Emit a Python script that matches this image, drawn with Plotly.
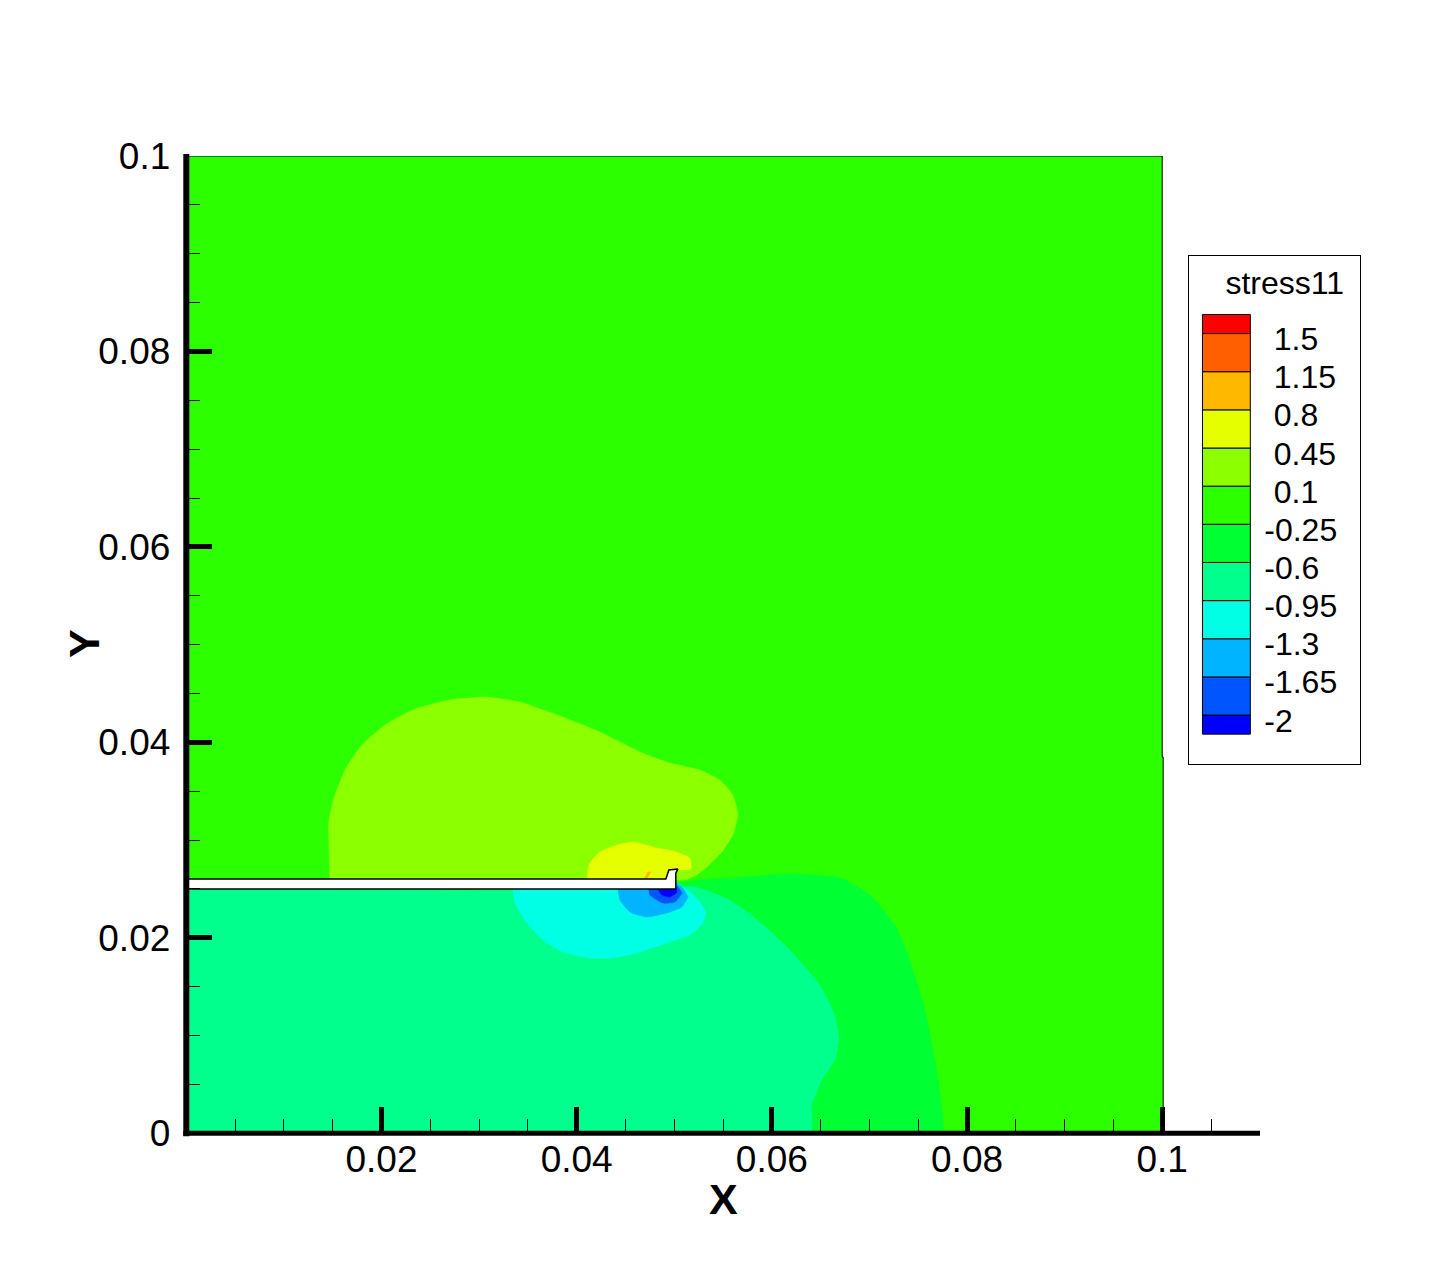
import plotly.graph_objects as go

# Contour zones, boundaries (data units)
plate_x = [0, 0.1, 0.1, 0.1001, 0.1001, 0]
plate_y = [0.1, 0.1, 0.0385, 0.0385, 0, 0]

z045_x = [0.01472,0.01462,0.01523,0.01636,0.01800,0.02035,0.02343,0.02701,0.03060,0.03418,0.03828,0.04238,0.04648,0.04955,0.05262,0.05467,0.05600,0.05651,0.05600,0.05488,0.05344,0.05231,0.05108,0.05016]
z045_y = [0.02602,0.03206,0.03462,0.03738,0.03973,0.04178,0.04341,0.04434,0.04464,0.04413,0.04270,0.04106,0.03902,0.03789,0.03717,0.03615,0.03462,0.03257,0.03052,0.02878,0.02735,0.02643,0.02592,0.02592]

z08_x = [0.04105,0.04135,0.04238,0.04412,0.04576,0.04822,0.04986,0.05160,0.05170,0.05037,0.04945,0.04914]
z08_y = [0.02602,0.02766,0.02878,0.02950,0.02981,0.02919,0.02889,0.02817,0.02704,0.02694,0.02694,0.02602]

z115_x = [0.04688,0.04729,0.04760,0.04719]
z115_y = [0.02602,0.02674,0.02674,0.02602]

zm025_x = [0.05027,0.05262,0.05600,0.06184,0.06696,0.07004,0.07260,0.07413,0.07567,0.07669,0.07731,0.07741,0.06389]
zm025_y = [0.02561,0.02592,0.02612,0.02653,0.02612,0.02438,0.02131,0.01773,0.01262,0.00750,0.00341,0,0]

zm06_x = [0,0.05016,0.05160,0.05314,0.05570,0.05877,0.06184,0.06491,0.06645,0.06686,0.06645,0.06512,0.06410,0.06389,0]
zm06_y = [0.02500,0.02500,0.02530,0.02490,0.02387,0.02162,0.01876,0.01517,0.01211,0.00955,0.00750,0.00545,0.00290,0,0]

zm095_x = [0.03347,0.03367,0.03490,0.03654,0.03859,0.04135,0.04371,0.04617,0.04925,0.05160,0.05293,0.05324,0.05262,0.05160,0.05027,0.05016]
zm095_y = [0.02500,0.02356,0.02152,0.01978,0.01855,0.01794,0.01794,0.01845,0.01947,0.02029,0.02152,0.02254,0.02367,0.02469,0.02561,0.02500]

zm13_x = [0.04422,0.04443,0.04545,0.04719,0.04925,0.05078,0.05139,0.05078,0.05016,0.05016]
zm13_y = [0.02500,0.02387,0.02264,0.02213,0.02254,0.02315,0.02418,0.02520,0.02561,0.02500]

zm165_x = [0.04740,0.04750,0.04883,0.05006,0.05078,0.05027,0.05016]
zm165_y = [0.02500,0.02438,0.02356,0.02367,0.02459,0.02530,0.02500]

zm2_x = [0.04832,0.04873,0.04955,0.05027,0.05016]
zm2_y = [0.02500,0.02438,0.02418,0.02469,0.02510]

crack_x = [0,0.04914,0.04945,0.05037,0.05016,0.05016,0]
crack_y = [0.02602,0.02602,0.02694,0.02704,0.02663,0.02500,0.02500]

# Legend
legend_edges = [-2.175,-2,-1.65,-1.3,-0.95,-0.6,-0.25,0.1,0.45,0.8,1.15,1.5,1.675]
legend_colors = ["#0000ff","#0055ff","#00b4ff","#00ffe5","#00ff8c","#00ff33",
                 "#2bff00","#8cff00","#e5ff00","#ffb800","#ff5f00","#ff0000"]
legend_neg = ["-2","-1.65","-1.3","-0.95","-0.6","-0.25"]
legend_pos = ["0.1","0.45","0.8","1.15","1.5"]
neg_levels = [-2,-1.65,-1.3,-0.95,-0.6,-0.25]
pos_levels = [0.1,0.45,0.8,1.15,1.5]

x_ticks = [0.02,0.04,0.06,0.08,0.1]
x_labels = ["0.02","0.04","0.06","0.08","0.1"]
y_ticks = [0,0.02,0.04,0.06,0.08,0.1]
y_labels = ["0","0.02","0.04","0.06","0.08","0.1"]

W, H = 1433, 1274
FONT = "Liberation Sans"
fig = go.Figure()

def zone(x, y, color, line=None, lw=0, smooth=True):
    ln = dict(color=line or color, width=lw if line else 0.5)
    if smooth:
        ln.update(shape="spline", smoothing=0.5)
    fig.add_trace(go.Scatter(x=x, y=y, mode="lines", fill="toself", fillcolor=color,
                             line=ln, hoverinfo="skip", showlegend=False))

zone(plate_x, plate_y, "#2bff00", "#000000", 1, smooth=False)
zone(zm025_x, zm025_y, "#00ff33")
zone(zm06_x, zm06_y, "#00ff8c")
zone(zm095_x, zm095_y, "#00ffe5")
zone(zm13_x, zm13_y, "#00b4ff")
zone(zm165_x, zm165_y, "#0055ff")
zone(zm2_x, zm2_y, "#0000ff")
zone(z045_x, z045_y, "#8cff00")
zone(z08_x, z08_y, "#e5ff00")
zone(z115_x, z115_y, "#ffb800", smooth=False)
zone(crack_x, crack_y, "#ffffff", "#000000", 1.5, smooth=False)

# legend bar
fig.add_trace(go.Bar(x=[38]*len(legend_colors),
                     y=[legend_edges[i+1]-legend_edges[i] for i in range(len(legend_colors))],
                     base=legend_edges[:-1], width=48,
                     marker=dict(color=legend_colors, line=dict(color="#000000", width=1)),
                     xaxis="x2", yaxis="y2", showlegend=False, hoverinfo="skip"))
LABEL_SHIFT = -0.078
lab_font = dict(family=FONT, size=32, color="#000000")
fig.add_trace(go.Scatter(x=[76]*len(neg_levels), y=[v+LABEL_SHIFT for v in neg_levels], text=legend_neg,
                         mode="text", textposition="middle right", textfont=lab_font,
                         xaxis="x2", yaxis="y2", showlegend=False, hoverinfo="skip"))
fig.add_trace(go.Scatter(x=[85.5]*len(pos_levels), y=[v+LABEL_SHIFT for v in pos_levels], text=legend_pos,
                         mode="text", textposition="middle right", textfont=lab_font,
                         xaxis="x2", yaxis="y2", showlegend=False, hoverinfo="skip"))
fig.add_trace(go.Scatter(x=[37], y=[1.94], text=["stress11"],
                         mode="text", textposition="middle right", textfont=lab_font,
                         xaxis="x2", yaxis="y2", showlegend=False, hoverinfo="skip"))

axis_common = dict(showgrid=False, zeroline=False, showline=False,
                   ticks="inside", ticklen=26, tickwidth=5, tickcolor="#000000",
                   tickfont=dict(family=FONT, size=37, color="#000000"),
                   tickmode="array", automargin=False,
                   minor=dict(ticks="inside", ticklen=14, tickwidth=1, tickcolor="#000000", dtick=0.005, tick0=0))

X0, X1, Y0, Y1 = 186.3/W, 1260/W, 1-1133.3/H, 1-156/H
fig.update_layout(
    width=W, height=H, autosize=False,
    margin=dict(l=0, r=0, t=0, b=0),
    paper_bgcolor="#ffffff", plot_bgcolor="#ffffff",
    barmode="overlay", showlegend=False,
    xaxis=dict(axis_common, domain=[X0, X1], range=[0, 0.11002], tickvals=x_ticks, ticktext=x_labels,
               ticklabelstandoff=1, anchor="y"),
    yaxis=dict(axis_common, domain=[Y0, Y1], range=[0, 0.1], tickvals=y_ticks, ticktext=y_labels,
               ticklabelstandoff=15, anchor="x"),
    xaxis2=dict(domain=[1188.5/W, 1360/W], range=[0, 172], anchor="y2", showgrid=False, zeroline=False,
                showticklabels=False, ticks="", showline=True, mirror=True, linecolor="#000000", linewidth=1),
    yaxis2=dict(domain=[1-764/H, 1-255.5/H], range=[-2.449, 2.216], anchor="x2", showgrid=False, zeroline=False,
                showticklabels=False, ticks="", showline=True, mirror=True, linecolor="#000000", linewidth=1),
    shapes=[
        dict(type="line", xref="paper", yref="paper", x0=X0, x1=X0, y0=Y0-3/H, y1=Y1+2/H, line=dict(color="#000000", width=6), layer="above"),
        dict(type="line", xref="paper", yref="paper", x0=X0-3/W, x1=X1, y0=Y0, y1=Y0, line=dict(color="#000000", width=5), layer="above"),
    ],
    annotations=[
        dict(text="<b>X</b>", xref="paper", yref="paper", x=723.5/W, y=1-1199/H, showarrow=False, xanchor="center", yanchor="middle",
             font=dict(family=FONT, size=43, color="#000000")),
        dict(text="<b>Y</b>", xref="paper", yref="paper", x=84/W, y=1-644/H, showarrow=False, xanchor="center", yanchor="middle",
             textangle=-90, font=dict(family=FONT, size=43, color="#000000")),
    ],
)

fig.write_html("out.html", config=dict(displayModeBar=False),
               post_script="document.body.style.margin='0';document.documentElement.style.overflow='hidden';")
